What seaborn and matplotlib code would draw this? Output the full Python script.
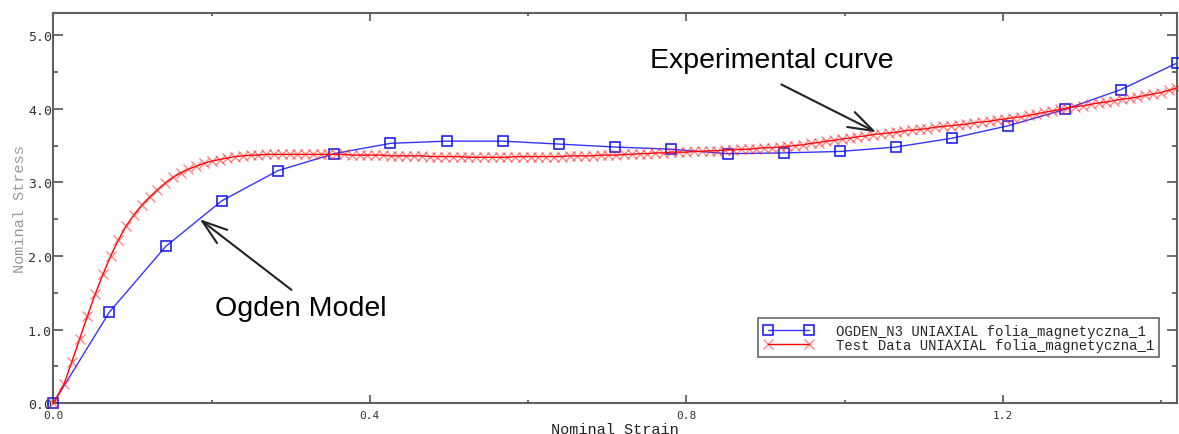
import numpy as np
import pandas as pd
import matplotlib
matplotlib.use("Agg")
import matplotlib.pyplot as plt
import seaborn as sns
from matplotlib.ticker import MultipleLocator, FormatStrFormatter

# ---------------- data ----------------
ogden_strain = [0.0, 0.071, 0.142, 0.213, 0.284, 0.355, 0.426, 0.497, 0.568, 0.639,
                0.710, 0.781, 0.852, 0.923, 0.994, 1.065, 1.136, 1.207, 1.278, 1.349, 1.420]
ogden_stress = [0.00, 1.24, 2.13, 2.75, 3.16, 3.39, 3.53, 3.56, 3.56, 3.52,
                3.48, 3.45, 3.39, 3.40, 3.42, 3.48, 3.60, 3.77, 3.99, 4.26, 4.62]

test_strain_first = 0.0135
test_strain_step = 0.00983
test_stress = [
    0.00, 0.26, 0.56, 0.87, 1.18,
    1.48, 1.75, 2.00, 2.22, 2.41,
    2.56, 2.69, 2.80, 2.90, 2.99,
    3.07, 3.13, 3.18, 3.22, 3.26,
    3.29, 3.31, 3.33, 3.35, 3.36,
    3.37, 3.37, 3.38, 3.38, 3.38,
    3.38, 3.38, 3.38, 3.38, 3.38,
    3.38, 3.38, 3.38, 3.37, 3.37,
    3.37, 3.37, 3.37, 3.36, 3.36,
    3.36, 3.36, 3.36, 3.35, 3.35,
    3.35, 3.35, 3.35, 3.34, 3.34,
    3.34, 3.34, 3.34, 3.34, 3.35,
    3.35, 3.35, 3.35, 3.35, 3.35,
    3.35, 3.36, 3.36, 3.36, 3.36,
    3.37, 3.37, 3.37, 3.38, 3.38,
    3.39, 3.39, 3.40, 3.40, 3.41,
    3.41, 3.41, 3.42, 3.42, 3.43,
    3.43, 3.44, 3.44, 3.45, 3.45,
    3.46, 3.47, 3.47, 3.48, 3.49,
    3.50, 3.51, 3.53, 3.54, 3.56,
    3.57, 3.59, 3.60, 3.62, 3.63,
    3.65, 3.66, 3.67, 3.68, 3.70,
    3.71, 3.72, 3.73, 3.75, 3.76,
    3.77, 3.78, 3.79, 3.81, 3.82,
    3.83, 3.85, 3.86, 3.88, 3.89,
    3.91, 3.93, 3.95, 3.97, 3.99,
    4.01, 4.03, 4.04, 4.06, 4.08,
    4.09, 4.11, 4.13, 4.14, 4.16,
    4.18, 4.20, 4.22, 4.25, 4.28,
]
test_strain = [0.0] + [round(test_strain_first + test_strain_step * i, 5)
                       for i in range(len(test_stress) - 1)]

x_ticks = [0.0, 0.4, 0.8, 1.2]
y_ticks = [0.0, 1.0, 2.0, 3.0, 4.0, 5.0]

ogden_label = "OGDEN_N3 UNIAXIAL folia_magnetyczna_1"
test_label = "Test Data UNIAXIAL folia_magnetyczna_1"

ogden_df = pd.DataFrame({"strain": ogden_strain, "stress": ogden_stress})
test_df = pd.DataFrame({"strain": test_strain, "stress": test_stress})

# ---------------- figure ----------------
sns.set_style("ticks")
mono = "DejaVu Sans Mono"
sans = "Liberation Sans"

fig = plt.figure(figsize=(11.79, 4.35), dpi=100)
ax = fig.add_axes([0.0452, 0.0706, 0.9531, 0.8972])

sns.lineplot(data=ogden_df, x="strain", y="stress", ax=ax, sort=False, estimator=None,
             color="#3535ff", lw=1.0, marker="s", markersize=6.5,
             markerfacecolor="none", markeredgecolor="#1010ee", markeredgewidth=1.1,
             label=ogden_label, clip_on=False, zorder=3)
sns.lineplot(data=test_df, x="strain", y="stress", ax=ax, sort=False, estimator=None,
             color="#ff0000", lw=1.0, marker="x", markersize=7.5,
             markeredgecolor=(1.0, 0.15, 0.15, 0.55), markeredgewidth=1.0,
             label=test_label, clip_on=False, zorder=4)

ax.set_xlim(0, 1.42)
ax.set_ylim(0, 5.3)
ax.set_xticks(x_ticks)
ax.set_yticks(y_ticks)
ax.xaxis.set_minor_locator(MultipleLocator(0.2))
ax.yaxis.set_minor_locator(MultipleLocator(0.5))
ax.xaxis.set_major_formatter(FormatStrFormatter("%.1f"))
ax.yaxis.set_major_formatter(FormatStrFormatter("%.1f"))

for sp in ax.spines.values():
    sp.set_color("#606060")
    sp.set_linewidth(1.5)
    sp.set_visible(True)

ax.tick_params(which="both", direction="in", top=True, right=True, color="#606060", width=1.3)
ax.tick_params(axis="x", which="major", length=6, pad=4.5, labelsize=8, labelcolor="#333333")
ax.tick_params(axis="x", which="minor", length=2.5)
ax.tick_params(axis="y", which="major", length=7, pad=1, labelsize=9.5, labelcolor="#333333")
ax.tick_params(axis="y", which="minor", length=3.5)
for lab in ax.get_xticklabels() + ax.get_yticklabels():
    lab.set_family(mono)

ax.set_xlabel("Nominal Strain", family="Liberation Mono", fontsize=11, color="#222222", labelpad=1.5)
ax.set_ylabel("Nominal Stress", family="Liberation Mono", fontsize=11, color="#999999", labelpad=1)

leg = ax.legend(loc="upper left", bbox_to_anchor=(0.627, 0.2186), borderaxespad=0,
                frameon=True, fancybox=False, framealpha=1, edgecolor="#666666",
                prop={"family": "Liberation Mono", "size": 10}, numpoints=2,
                handlelength=3.6, handletextpad=1.6, labelspacing=0.0, borderpad=0.4)
leg.get_frame().set_linewidth(1.2)

ax.annotate("", xy=(1.040, 3.68), xytext=(0.920, 4.33),
            arrowprops=dict(arrowstyle="->,head_length=0.9,head_width=0.3",
                            color="#222222", lw=1.5, mutation_scale=20, shrinkA=0, shrinkB=0))
ax.text(0.908, 4.66, "Experimental curve", ha="center", va="center",
        family=sans, fontsize=20.5, color="black")

ax.annotate("", xy=(0.185, 2.50), xytext=(0.301, 1.54),
            arrowprops=dict(arrowstyle="->,head_length=0.9,head_width=0.3",
                            color="#222222", lw=1.5, mutation_scale=20, shrinkA=0, shrinkB=0))
ax.text(0.313, 1.30, "Ogden Model", ha="center", va="center",
        family=sans, fontsize=20.5, color="black")

fig.savefig("out.png", dpi=100)
